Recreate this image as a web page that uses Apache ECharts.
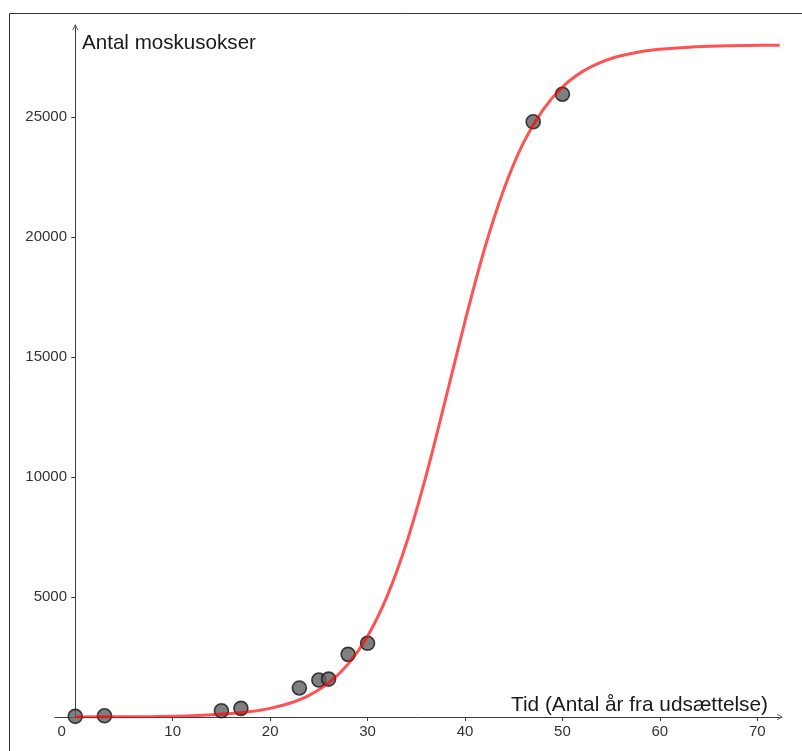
<!DOCTYPE html>
<html>
<head>
<meta charset="utf-8">
<script src="https://cdn.jsdelivr.net/npm/echarts@6/dist/echarts.min.js"></script>
<style>html,body{margin:0;padding:0;background:#fff}#c{width:802px;height:751px}</style>
</head>
<body>
<div id="c"></div>
<script>
// Observed data points (years since release, number of musk oxen)
const pointYears = [0, 3, 15, 17, 23, 25, 26, 28, 30, 47, 50];
const pointCounts = [27, 50, 260, 360, 1210, 1540, 1580, 2610, 3070, 24800, 25950];

// Fitted curve, values
const curveYears = [0, 4, 8, 12, 16, 18, 20, 22, 24, 26, 28, 30, 32, 34, 36, 38, 40, 42, 44, 46, 48, 50, 52, 54, 56, 58, 60, 63, 66, 69, 72.3];
const curveCounts = [3, 9, 22, 56, 142, 226, 360, 572, 904, 1419, 2204, 3367, 5025, 7258, 10050, 13230, 16490, 19500, 22000, 23930, 25300, 26250, 26880, 27290, 27550, 27720, 27820, 27910, 27960, 27980, 27990];

// Tick labels
const xTicks = [0, 10, 20, 30, 40, 50, 60, 70];
const xTickMarks = [10, 20, 30, 40, 50, 60, 70];
const yTicks = [5000, 10000, 15000, 20000, 25000];

const yTitle = 'Antal moskusokser';
const xTitle = 'Tid (Antal år fra udsættelse)';

const FONT = '"Liberation Sans", Arial, sans-serif';
const chevron = 'path://M0,10 L5,0 L10,10 L8.6,10 L5,2.8 L1.4,10 Z';

const chart = echarts.init(document.getElementById('c'), null, {renderer: 'canvas'});
chart.setOption({
  animation: false,
  backgroundColor: '#ffffff',
  grid: {left: 55, right: 22, top: 27, bottom: 34, containLabel: false},
  xAxis: {
    type: 'value',
    min: -2.08,
    max: 72.33,
    splitLine: {show: false},
    axisLine: {onZero: true, lineStyle: {color: '#3c3c3c', width: 1},
      symbol: ['none', chevron], symbolSize: [10, 6]},
    axisTick: {show: true, inside: false, length: 4, lineStyle: {color: '#3c3c3c'}, customValues: xTickMarks},
    axisLabel: {
      customValues: xTicks, margin: 7, color: '#333', fontFamily: FONT, fontSize: 15,
      formatter: function (v) { return v === 0 ? '{z|0}' : String(v); },
      rich: {z: {padding: [0, 27, 0, 0], color: '#333', fontFamily: FONT, fontSize: 15}}
    }
  },
  yAxis: {
    type: 'value',
    min: 0,
    max: 28750,
    splitLine: {show: false},
    axisLine: {onZero: true, lineStyle: {color: '#3c3c3c', width: 1},
      symbol: ['none', chevron], symbolSize: [10, 6]},
    axisTick: {show: true, inside: false, length: 4, lineStyle: {color: '#3c3c3c'}, customValues: yTicks},
    axisLabel: {customValues: yTicks, margin: -12, color: '#333', fontFamily: FONT, fontSize: 15,
      formatter: function (v) { return String(v); }}
  },
  graphic: [
    {type: 'rect', shape: {x: 9.5, y: 13.5, width: 1000, height: 1000}, style: {fill: 'none', stroke: '#333', lineWidth: 1}, silent: true, z: -1},
    {type: 'text', left: 82, top: 33, style: {text: yTitle, font: '20.6px ' + FONT, fill: '#1a1a1a'}},
    {type: 'text', right: 34, top: 695, style: {text: xTitle, font: '20.8px ' + FONT, fill: '#1a1a1a'}}
  ],
  series: [
    {
      type: 'scatter',
      data: pointYears.map((t, i) => [t, pointCounts[i]]),
      symbolSize: 14,
      itemStyle: {color: '#5f5f5f', borderColor: '#151515', borderWidth: 1.6},
      z: 2
    },
    {
      type: 'line',
      data: curveYears.map((t, i) => [t, curveCounts[i]]),
      showSymbol: false,
      smooth: 0.3,
      lineStyle: {color: 'rgba(255,0,0,0.68)', width: 3},
      z: 3
    }
  ]
});
</script>
</body>
</html>
